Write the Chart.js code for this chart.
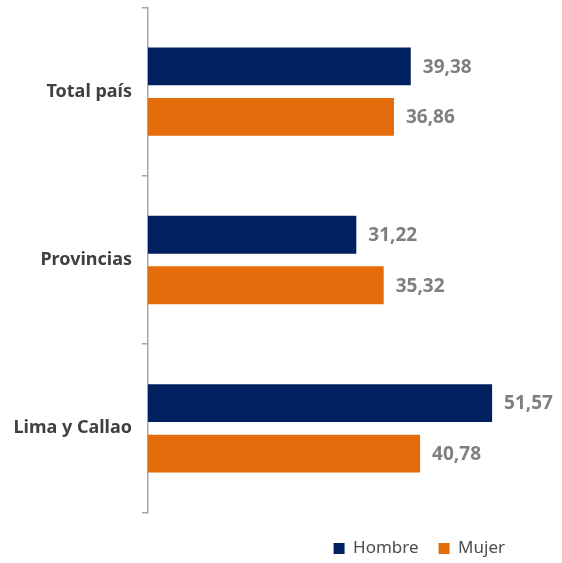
<!DOCTYPE html>
<html lang="es">
<head>
<meta charset="utf-8">
<title>Hombre / Mujer por ámbito</title>
<script src="https://cdn.jsdelivr.net/npm/chart.js@4.4.1/dist/chart.umd.min.js"></script>
<style>
  html, body { margin: 0; padding: 0; background: #fff; }
  #wrap { width: 562px; height: 563px; position: relative; }
</style>
</head>
<body>
<div id="wrap"><canvas id="ambitoChart"></canvas></div>
<script>
// ámbitos y valores por sexo
const ambitos = ['Total país', 'Provincias', 'Lima y Callao'];
const hombre = [39.38, 31.22, 51.57];
const mujer = [36.86, 35.32, 40.78];

const NAVY = '#002060';
const ORANGE = '#E46C0A';
const AXIS_GREY = '#A6A6A6';

// 39.38 -> "39,38"
const fmt = v => v.toFixed(2).replace('.', ',');

// value text drawn just past the end of each bar
const valueLabels = {
    id: 'valueLabels',
    afterDatasetsDraw(chart) {
        const { ctx } = chart;
        ctx.save();
        ctx.font = 'bold 19px "Noto Sans"';
        ctx.fillStyle = '#7F7F7F';
        ctx.textAlign = 'left';
        ctx.textBaseline = 'middle';
        chart.data.datasets.forEach((ds, i) => {
            chart.getDatasetMeta(i).data.forEach((bar, j) => {
                ctx.fillText(fmt(ds.data[j]), bar.x + 12, bar.y + 1);
            });
        });
        ctx.restore();
    }
};

new Chart(document.getElementById('ambitoChart').getContext('2d'), {
    type: 'bar',
    data: {
        labels: ambitos,
        datasets: [
            { label: 'Hombre', data: hombre, backgroundColor: NAVY },
            { label: 'Mujer', data: mujer, backgroundColor: ORANGE }
        ]
    },
    options: {
        indexAxis: 'y',
        responsive: true,
        maintainAspectRatio: false,
        animation: false,
        categoryPercentage: 0.6,
        barPercentage: 0.75,
        layout: { padding: { top: 7.5, bottom: 3, left: 0, right: 37 } },
        plugins: {
            legend: {
                position: 'bottom',
                align: 'end',
                maxHeight: 40,
                labels: {
                    boxWidth: 11,
                    boxHeight: 11,
                    padding: 20,
                    color: '#4D4D4D',
                    font: { family: '"Noto Sans"', size: 17 }
                }
            },
            tooltip: { enabled: false }
        },
        scales: {
            x: {
                min: 0,
                max: 56.5,
                grid: { display: false },
                border: { display: false },
                ticks: { display: false },
                afterFit: (s) => { s.height = 7.5; }
            },
            y: {
                grid: {
                    offset: true,
                    drawOnChartArea: false,
                    drawTicks: true,
                    tickLength: 6,
                    color: AXIS_GREY,
                    lineWidth: 1.5
                },
                border: { color: AXIS_GREY, width: 1.5 },
                ticks: {
                    padding: 10,
                    color: '#404040',
                    font: { family: '"Noto Sans"', size: 18, weight: 'bold' }
                },
                afterFit: (s) => {
                    s.width = 148;
                    s.paddingTop = 0;
                    s.paddingBottom = 0;
                }
            }
        }
    },
    plugins: [valueLabels]
});
</script>
</body>
</html>
